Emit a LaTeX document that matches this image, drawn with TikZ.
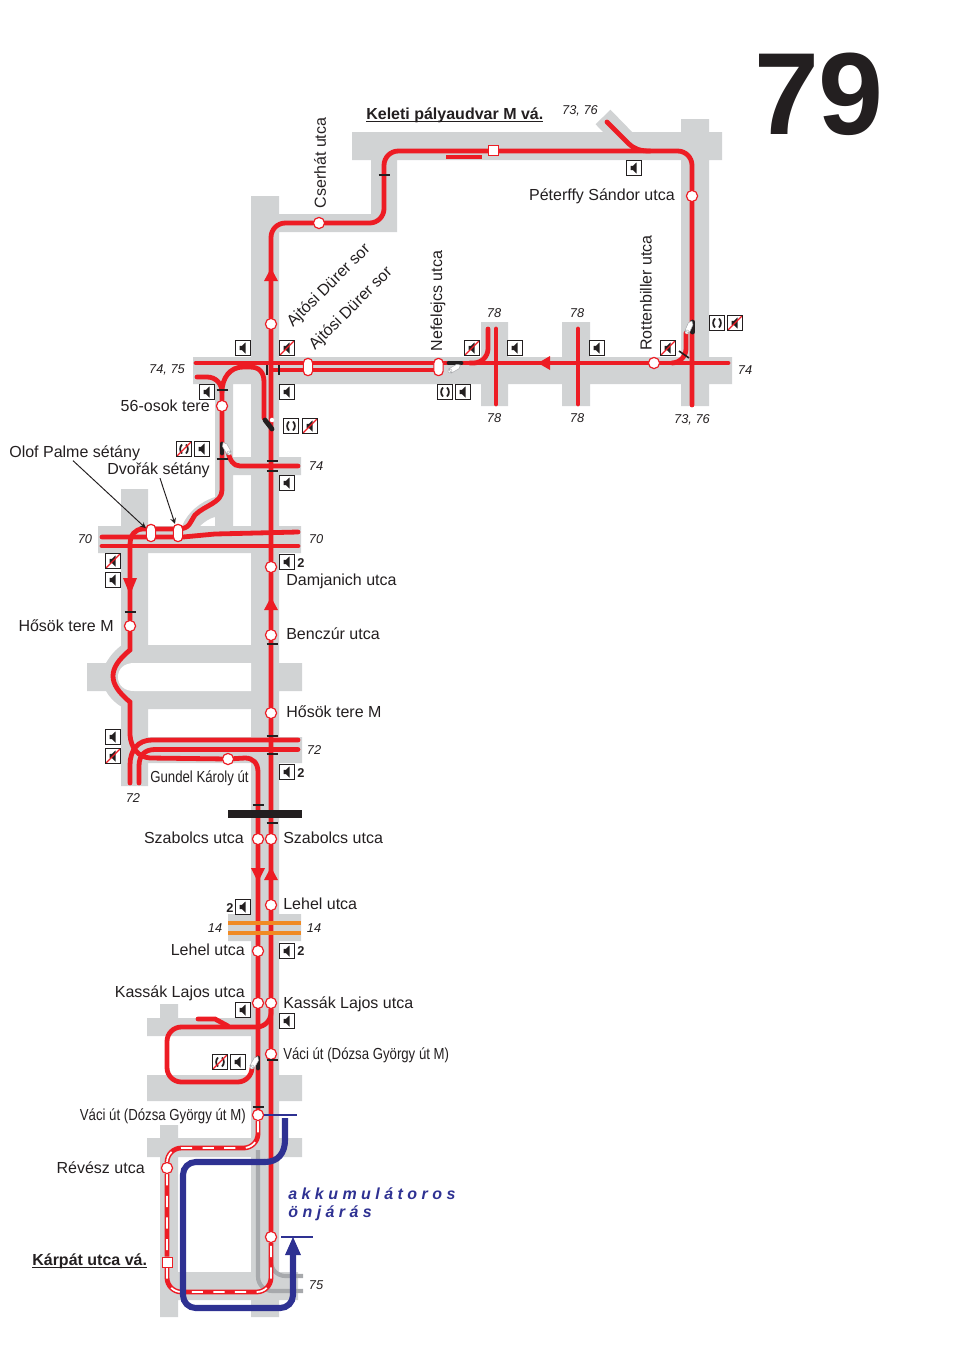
\documentclass[tikz,border=0pt]{standalone}
\usepackage{fontspec}
\setmainfont{Liberation Sans}
\newfontfamily\narrowfont[FakeStretch=0.825]{Liberation Sans}
\usetikzlibrary{arrows}
\pgfdeclarelayer{streets}
\pgfdeclarelayer{tracks}
\pgfsetlayers{streets,tracks,main}
\definecolor{trackred}{HTML}{ED1C24}
\definecolor{streetgray}{HTML}{D1D3D4}
\definecolor{busblue}{HTML}{2E3192}
\definecolor{lineorange}{HTML}{F08A24}
\definecolor{oldtrack}{HTML}{A7A9AC}
\definecolor{inkblack}{HTML}{231F20}
\newcommand{\spkglyph}{\fill[shift={(path picture bounding box.center)},inkblack] (-3.5,-2.2) -- (-1,-2.2) -- (2.5,-5.5) -- (2.5,5.5) -- (-1,2.2) -- (-3.5,2.2) -- cycle;}
\newcommand{\parglyph}{\draw[shift={(path picture bounding box.center)},inkblack,line width=1.1pt] (-2,-4.5) .. controls (-4.5,-2) and (-4.5,2) .. (-2,4.5) (2,-4.5) .. controls (4.5,-2) and (4.5,2) .. (2,4.5);}
\newcommand{\crossglyph}{\draw[trackred,line width=.8pt] (path picture bounding box.south west) -- (path picture bounding box.north east);}
\tikzset{
  boxmark/.style={draw=inkblack,fill=white,line width=.5pt,minimum size=9.4pt,inner sep=0pt},
  spk/.style={boxmark,path picture={\spkglyph}},
  nospk/.style={boxmark,path picture={\spkglyph\crossglyph}},
  parmark/.style={boxmark,path picture={\parglyph}},
  noparmark/.style={boxmark,path picture={\parglyph\crossglyph}},
  stop/.style={circle,draw=trackred,fill=white,line width=.75pt,minimum size=7pt,inner sep=0pt},
  pill/.style={draw=trackred,fill=white,line width=.75pt,rounded corners=2.8pt,minimum width=5.8pt,minimum height=10.8pt,inner sep=0pt},
  endstop/.style={draw=trackred,fill=white,line width=.5pt,minimum size=6.2pt,inner sep=0pt},
  trk/.style={draw=trackred,line width=3pt,line cap=round,rounded corners=9pt},
  hollow/.style={trk,line cap=butt,postaction={draw=white,line width=1.1pt,dash pattern=on 7pt off 6.5pt}},
  bus/.style={draw=busblue,line width=3.8pt,rounded corners=8pt},
  street/.style={fill=streetgray},
  tick/.style={draw=inkblack,line width=1pt},
  block/.style={draw=inkblack,line width=3pt,line cap=round},
  lbl/.style={inner sep=0pt,text=inkblack},
  numlbl/.style={inner sep=0pt,font=\footnotesize\itshape,text=inkblack},
  two/.style={inner sep=0pt,font=\footnotesize\bfseries,text=inkblack},
  pencil/.pic={\draw[draw=oldtrack,fill=white,line width=.3pt] (0,-2.5) -- (9,-2.5) -- (12,0) -- (9,2.5) -- (0,2.5) -- cycle (0,0) circle (2);}
}
\begin{document}
\begin{tikzpicture}[>=stealth,x=0.625pt,y=-0.625pt]
    \useasboundingbox (0,0) rectangle (960,1358);
    \node[stop] (peterffy) at (692,196) {};
    \node[stop] (cserhat) at (319,223) {};
    \node[stop] (ajtosi) at (271,324) {};
    \node[stop] (rottenbiller) at (654,363) {};
    \node[stop] (osok) at (222,406) {};
    \node[stop] (damjanich) at (271,567) {};
    \node[stop] (benczur) at (271,635) {};
    \node[stop] (hosokE) at (271,713) {};
    \node[stop] (hosokW) at (130,626) {};
    \node[stop] (gundel) at (228,759) {};
    \node[stop] (szabolcsE) at (271,839) {};
    \node[stop] (szabolcsW) at (258,839) {};
    \node[stop] (lehelE) at (271,905) {};
    \node[stop] (lehelW) at (258,951) {};
    \node[stop] (kassakE) at (271,1003) {};
    \node[stop] (kassakW) at (258,1003) {};
    \node[stop] (vaciE) at (271,1054) {};
    \node[stop] (vaciW) at (258,1115) {};
    \node[stop] (revesz) at (167,1168) {};
    \node[stop] (akku) at (271,1237) {};
    \node[endstop] (keleti) at (493,150) {};
    \node[endstop] (karpat) at (167,1262) {};
    \node[pill] (durerA) at (308,367) {};
    \node[pill] (durerB) at (438.5,367) {};
    \node[pill] (olof) at (151,533) {};
    \node[pill] (dvorak) at (178,533) {};
    \coordinate (busstart) at (285,1118);
    \coordinate (busbend) at (265,1162);
    \coordinate (busend) at (293,1254);
    \begin{pgfonlayer}{streets}
        \fill[street] (352,132) rectangle (722,160) (681,119) rectangle (709,406) (371,132) rectangle (397,232)
            (251,214) rectangle (397,232) (251,196) rectangle (279,1317) (193,357) rectangle (732,384)
            (481,322) rectangle (508,406) (562,322) rectangle (590,406) (215,384) rectangle (233,530)
            (233,457) rectangle (301,475) (98,526) rectangle (301,553) (121,489) rectangle (148,786)
            (121,645) rectangle (251,709) (279,663) rectangle (302,691) (148,737) rectangle (302,763)
            (228,914) rectangle (301,941) (147,1018) rectangle (251,1036) (160,1004) rectangle (178,1036)
            (147,1075) rectangle (302,1101) (147,1138) rectangle (302,1157) (160,1125) rectangle (178,1317)
            (178,1272) rectangle (298,1300);
        \fill[street] (122,645) .. controls (115,650) and (110,656) .. (106,663) -- (87,663) -- (87,691) -- (106,691) .. controls (110,698) and (115,703) .. (122,707) -- cycle;
        \fill[white] (251,663) -- (134,663) .. controls (124,663) and (118,669) .. (118,677) .. controls (118,685) and (124,691) .. (134,691) -- (251,691) -- cycle;
        \fill[street] (215,497) .. controls (200,502) and (188,512) .. (182,526) -- (200,526) .. controls (204,522) and (210,518) .. (215,517) -- cycle;
        \draw[streetgray,line width=13pt] (603,117) -- (640,155);
    \end{pgfonlayer}
    \begin{pgfonlayer}{tracks}
        \draw[oldtrack,line width=2.6pt,rounded corners=9pt] (258,1150) -- (258,1291) -- (303,1291);
        \draw[oldtrack,line width=2.6pt,rounded corners=9pt] (271,1255) -- (271,1276) -- (303,1276);
        \draw[trk] (692,405) -- (peterffy) -- (692,151) -- (384,151) -- (384,223) -- (cserhat) -- (271,223) -- (ajtosi) -- (damjanich) -- (benczur) -- (hosokE) -- (szabolcsE) -- (lehelE) -- (kassakE) -- (vaciE) -- (akku);
        \draw[trk,rounded corners=0pt] (607,122) -- (628,143) .. controls (634,149) and (640,151) .. (650,151);
        \draw[trk,line cap=butt,line width=2.5pt] (446,157) -- (482,157);
        \draw[trk] (196,363) -- (438,363);
        \draw[trk] (438,363) -- (rottenbiller) -- (728,363);
        \draw[trk] (272,370) -- (438,370);
        \draw[trk] (470,363) -- (488,363) -- (488,329);
        \draw[trk] (496,329) -- (496,404);
        \draw[trk] (578,329) -- (578,404);
        \draw[trk] (672,363) -- (686,363) -- (686,333);
        \draw[trk,rounded corners=0pt] (197,377) -- (207,377) .. controls (216,377) and (222,384) .. (222,392) -- (osok) -- (222,490) .. controls (222,503) and (205,505) .. (195,515) .. controls (190,522) and (190,529) .. (178,529) -- (143,529) .. controls (135,529) and (130,535) .. (130,545) -- (hosokW) -- (130,650) .. controls (118,660) and (113,668) .. (113,676) .. controls (113,684) and (118,692) .. (130,702) -- (130,735) .. controls (131,748) and (138,757) .. (150,758) -- (gundel) -- (245,758) .. controls (253,758) and (258,763) .. (258,772) -- (szabolcsW) -- (lehelW) -- (kassakW) -- (vaciW);
        \draw[trk,rounded corners=0pt] (222,392) .. controls (222,378) and (230,367) .. (243,367) -- (250,367) .. controls (259,367) and (264,372) .. (264,382) -- (264,418);
        \draw[trk,rounded corners=0pt] (228,452) .. controls (230,460) and (233,466) .. (240,466) -- (298,466);
        \draw[trk,rounded corners=0pt] (102,537) -- (183,537) -- (215,534) -- (298,532);
        \draw[trk] (102,546) -- (298,546);
        \draw[trk,rounded corners=0pt] (298,740) -- (152,740) .. controls (138,740) and (130,750) .. (130,765) -- (130,783);
        \draw[trk,rounded corners=0pt] (298,749.5) -- (155,749.5) .. controls (145,749.5) and (139,755) .. (139,766) -- (139,783);
        \draw[trk] (kassakE) -- (271,1027) -- (167,1027) -- (167,1082) -- (252,1082) -- (252,1068);
        \draw[trk,rounded corners=0pt] (198,1019) -- (215,1019) -- (228,1026);
        \draw[hollow] (vaciW) -- (258,1148) -- (167,1148) -- (revesz) -- (karpat) -- (167,1292) -- (271,1292) -- (akku);
        \draw[lineorange,line width=2.2pt] (228,923) -- (301,923);
        \draw[lineorange,line width=2.2pt] (228,933) -- (301,933);
        \draw[bus,rounded corners=0pt] (busstart) -- (285,1140) .. controls (285,1153) and (278,1162) .. (busbend);
        \draw[bus] (busbend) -- (183,1162) -- (183,1308) -- (293,1308) -- (busend);
        \fill[trackred] (538,363) -- (550,356) -- (550,370) -- cycle;
        \foreach \ay in {268,597,867}
            \fill[trackred] (271,\ay) -- (278,\ay+13) -- (264,\ay+13) -- cycle;
        \fill[trackred] (258,882) -- (251,868) -- (265,868) -- cycle;
        \fill[trackred] (130,595) -- (123,578) -- (137,578) -- cycle;
    \end{pgfonlayer}
    \fill[busblue] (293,1237) -- (301,1255) -- (285,1255) -- cycle;
    \draw[busblue,line width=1pt] (vaciW) -- (297,1115);
    \draw[busblue,line width=1pt] (281,1237) -- (313,1237);
    \foreach \tx/\ty in {384/175,222/390,222/459,272/461,272/471,130/612,272/644,272/736,272/754,258/805,272/823,272/1060,258/1107}
        \draw[tick] (\tx-5.5,\ty) -- (\tx+5.5,\ty);
    \draw[tick] (267,365) -- (267,375);
    \draw[tick] (279,365) -- (279,375);
    \draw[tick] (679,351) -- (689,358);
    \fill[inkblack] (228,810) rectangle (302,818);
    \draw[block] (449,363) -- (461,363);
    \draw[block] (265,420) -- (272,429);
    \draw[block] (222,444) -- (222,453);
    \draw[block] (692.5,322) -- (692.5,332);
    \draw[block] (258,1058) -- (258,1068);
    \pic[rotate=30] at (450,371) {pencil};
    \pic[rotate=119] at (229,453) {pencil};
    \pic[rotate=66] at (687,332) {pencil};
    \pic[rotate=61] at (252,1067) {pencil};
    \node[circle,fill=white,inner sep=1pt] (switchdot) at (272,420) {};
    \node[spk] (s1) at (634,168) {};
    \node[spk] (s2) at (243,348) {};
    \node[nospk] (s3) at (287,348) {};
    \node[spk] (s4) at (207,392) {};
    \node[spk] (s5) at (287,392) {};
    \node[parmark] (s6) at (291,426) {};
    \node[nospk] (s7) at (310,426) {};
    \node[noparmark] (s8) at (184,449) {};
    \node[spk] (s9) at (202,449) {};
    \node[spk] (s10) at (287,483) {};
    \node[nospk] (s11) at (472,348) {};
    \node[spk] (s12) at (515,348) {};
    \node[spk] (s13) at (597,348) {};
    \node[nospk] (s14) at (668,348) {};
    \node[parmark] (s15) at (445,392) {};
    \node[spk] (s16) at (463,392) {};
    \node[parmark] (s17) at (717,323) {};
    \node[nospk] (s18) at (735,323) {};
    \node[nospk] (s19) at (113,561) {};
    \node[spk] (s20) at (113,580) {};
    \node[spk] (s21) at (287,562) {};
    \node[spk] (s22) at (113,737) {};
    \node[nospk] (s23) at (113,756) {};
    \node[spk] (s24) at (287,772) {};
    \node[spk] (s25) at (243,907) {};
    \node[spk] (s26) at (287,951) {};
    \node[spk] (s27) at (243,1010) {};
    \node[spk] (s28) at (287,1021) {};
    \node[noparmark] (s29) at (220,1062) {};
    \node[spk] (s30) at (238,1062) {};
    \node[two] (n1) at (301,563) {2};
    \node[two] (n2) at (301,773) {2};
    \node[two] (n3) at (230,908) {2};
    \node[two] (n4) at (301,951) {2};
    \node[lbl,font=\fontsize{73}{80}\selectfont\bfseries] (line79) at (819,94) {79};
    \node[lbl,anchor=base west,font=\bfseries] (lkeleti) at (366,119) {\underline{\smash{Keleti pályaudvar M vá.}}};
    \node[lbl,anchor=base west,font=\bfseries] (lkarpat) at (32,1265.5) {\underline{\smash{Kárpát utca vá.}}};
    \node[lbl,anchor=base east] (lpeterffy) at (675,200) {Péterffy Sándor utca};
    \node[lbl,rotate=90] (lcserhat) at (320,163) {Cserhát utca};
    \node[lbl,rotate=45] (ldurerA) at (329,286) {Ajtósi Dürer sor};
    \node[lbl,rotate=45] (ldurerB) at (351,309) {Ajtósi Dürer sor};
    \node[lbl,rotate=90] (lnefelejcs) at (438,301) {Nefelejcs utca};
    \node[lbl,rotate=90] (lrottenbiller) at (646,293) {Rottenbiller utca};
    \node[lbl,anchor=base east] (losok) at (210,411) {56-osok tere};
    \node[lbl,anchor=base west] (lolof) at (9,457) {Olof Palme sétány};
    \node[lbl,anchor=base east] (ldvorak) at (210,474.5) {Dvořák sétány};
    \node[lbl,anchor=base west] (ldamjanich) at (286,585) {Damjanich utca};
    \node[lbl,anchor=base west] (lbenczur) at (286,639) {Benczúr utca};
    \node[lbl,anchor=base west] (lhosokE) at (286,717) {Hősök tere M};
    \node[lbl,anchor=base east] (lhosokW) at (114,631) {Hősök tere M};
    \node[lbl,anchor=base east,font=\narrowfont] (lgundel) at (249,782) {Gundel Károly út};
    \node[lbl,anchor=base east] (lszabolcsW) at (244,843) {Szabolcs utca};
    \node[lbl,anchor=base west] (lszabolcsE) at (283,843) {Szabolcs utca};
    \node[lbl,anchor=base west] (llehelE) at (283,909) {Lehel utca};
    \node[lbl,anchor=base east] (llehelW) at (245,955) {Lehel utca};
    \node[lbl,anchor=base east] (lkassakW) at (245,997) {Kassák Lajos utca};
    \node[lbl,anchor=base west] (lkassakE) at (283,1008) {Kassák Lajos utca};
    \node[lbl,anchor=base west,font=\narrowfont] (lvaciE) at (283,1059) {Váci út (Dózsa György út M)};
    \node[lbl,anchor=base east,font=\narrowfont] (lvaciW) at (246,1120) {Váci út (Dózsa György út M)};
    \node[lbl,anchor=base east] (lrevesz) at (145,1173) {Révész utca};
    \node[lbl,anchor=base west,text=busblue,font=\bfseries\itshape] (lakku) at (288,1199) {a k k u m u l á t o r o s};
    \node[lbl,anchor=base west,text=busblue,font=\bfseries\itshape] (lonjaras) at (288,1217) {ö n j á r á s};
    \node[numlbl] (b1) at (580,111) {73, 76};
    \node[numlbl] (b2) at (167,370) {74, 75};
    \node[numlbl] (b3) at (745,370) {74};
    \node[numlbl] (b4) at (494,313) {78};
    \node[numlbl] (b5) at (577,313) {78};
    \node[numlbl] (b6) at (494,418) {78};
    \node[numlbl] (b7) at (577,418) {78};
    \node[numlbl] (b8) at (692,420) {73, 76};
    \node[numlbl] (b9) at (316,466) {74};
    \node[numlbl] (b10) at (85,539) {70};
    \node[numlbl] (b11) at (316,539) {70};
    \node[numlbl] (b12) at (314,750) {72};
    \node[numlbl] (b13) at (133,798) {72};
    \node[numlbl] (b14) at (215,928) {14};
    \node[numlbl] (b15) at (314,928) {14};
    \node[numlbl] (b16) at (316,1285) {75};
    \draw[->,inkblack,line width=.6pt] (lolof.south -| 73,0) -- (olof);
    \draw[->,inkblack,line width=.6pt] (ldvorak.south -| 160,0) -- (dvorak);
\end{tikzpicture}
\end{document}
